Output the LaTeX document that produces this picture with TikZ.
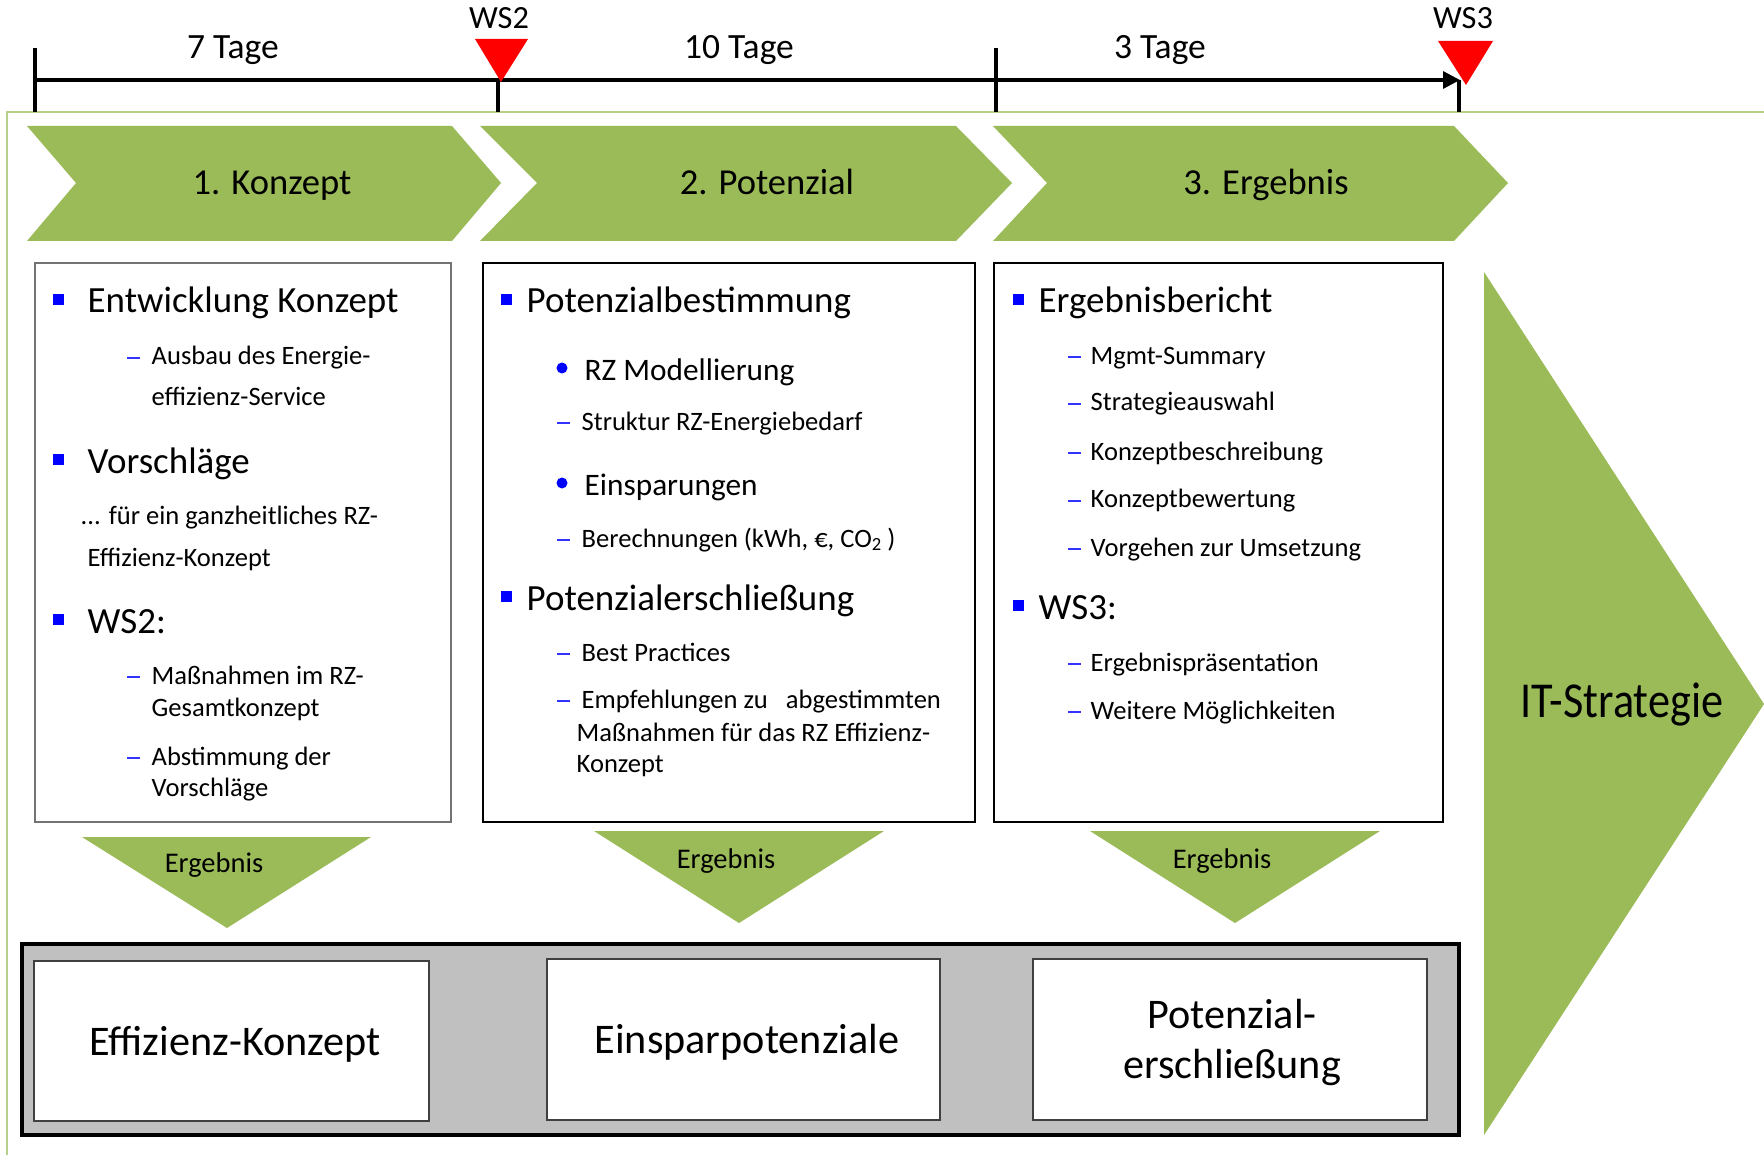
\documentclass[tikz,border=0pt]{standalone}
\usepackage{fontspec}
\setmainfont{Carlito}
\newfontfamily\cfont{Carlito}[FakeStretch=0.88]
\usetikzlibrary{arrows.meta}
\definecolor{olive}{HTML}{9BBB59}
\definecolor{frameg}{HTML}{B8CF8A}
\definecolor{bblue}{HTML}{0000FF}
\definecolor{dblue}{HTML}{3333FF}
\definecolor{grayfill}{HTML}{C0C0C0}
\newcommand\sqb[2]{\fill[bblue] (#1,#2-19) rectangle ++(11,11);}
\newcommand\rdb[2]{\fill[bblue] (#1,#2-12) circle[radius=5.5];}
\newcommand\dsh[2]{\draw[dblue,line width=0.45pt] (#1,#2-7) -- ++(13,0);}
\begin{document}
\begin{tikzpicture}[x=0.01cm,y=-0.01cm,
  hd/.style={anchor=base west, inner sep=0pt, font=\fontsize{10.5}{12}\selectfont},
  sb/.style={anchor=base west, inner sep=0pt, font=\fontsize{7.55}{9}\selectfont},
  md/.style={anchor=base west, inner sep=0pt, font=\fontsize{8.9}{10}\selectfont},
  tl/.style={anchor=base, inner sep=0pt, font=\fontsize{10.1}{12}\selectfont},
  ws/.style={anchor=base, inner sep=0pt, font=\fontsize{9.2}{10}\selectfont},
  chl/.style={anchor=base, inner sep=0pt, font=\fontsize{10.4}{12}\selectfont},
  erg/.style={anchor=base, inner sep=0pt, font=\fontsize{8.1}{9}\selectfont},
  big/.style={anchor=base, inner sep=0pt, font=\fontsize{12}{14}\selectfont},
  tick/.style={line width=1pt},
  cbox/.style={draw=black, line width=0.8pt},
  wbox/.style={fill=white, draw=black!75, line width=0.5pt}
]
\useasboundingbox (0,0) rectangle (1764,1155);
\fill[white] (0,0) rectangle (1764,1155);

% frame
\draw[frameg, line width=0.6pt] (7,1155) -- (7,112) -- (1764,112);

% timeline
\coordinate (t0) at (35,80);
\coordinate (t1) at (498,80);
\coordinate (t2) at (996,80);
\coordinate (t3) at (1460,80);
\draw[line width=0.9pt, -{Triangle[length=0.17cm,width=0.17cm]}] (t0) -- (t3);
\draw[tick] (35,48) -- (35,112);
\draw[tick] (t1) -- (498,112);
\draw[tick] (996,48) -- (996,112);
\draw[tick] (1459,80) -- (1459,112);
\fill[red] (475,39) -- (528,39) -- (501,82) -- cycle;
\fill[red] (1438,41) -- (1493,41) -- (1466,85) -- cycle;
\node[ws] (ws2) at (499,29) {WS2};
\node[ws] (ws3) at (1463,29) {WS3};
\node[tl] (d1) at (233,59) {7 Tage};
\node[tl] (d2) at (739,59) {10 Tage};
\node[tl] (d3) at (1160,59) {3 Tage};

% chevrons
\fill[olive] (27,126) -- (452,126) -- (501,183) -- (452,241) -- (27,241) -- (76,183) -- cycle;
\fill[olive] (480,126) -- (956,126) -- (1012,183) -- (956,241) -- (480,241) -- (537,183) -- cycle;
\fill[olive] (993,126) -- (1454,126) -- (1508,183) -- (1454,241) -- (993,241) -- (1047,183) -- cycle;
\node[chl] (c1) at (272,195) {1. Konzept};
\node[chl] (c2) at (767,195) {2. Potenzial};
\node[chl] (c3) at (1266,195) {3. Ergebnis};

% content boxes
\draw[draw=black!55, line width=0.5pt] (35,263) rectangle (451,822);
\draw[cbox] (483,263) rectangle (975,822);
\draw[cbox] (994,263) rectangle (1443,822);

% box 1
\sqb{53}{313} \node[hd] (a1) at (87,313) {Entwicklung Konzept};
\dsh{127}{365} \node[sb] (a2) at (151,365) {Ausbau des Energie-};
\node[sb] (a3) at (151,406) {effizienz-Service};
\sqb{53}{473} \node[hd] (a4) at (87,473) {Vorschläge};
\node[sb] (a5) at (80,524) {... für ein ganzheitliches RZ-};
\node[sb] (a6) at (87,566) {Effizienz-Konzept};
\sqb{53}{633} \node[hd] (a7) at (87,633) {WS2:};
\dsh{127}{684} \node[sb] (a8) at (151,684) {Maßnahmen im RZ-};
\node[sb] (a9) at (151,716) {Gesamtkonzept};
\dsh{127}{765} \node[sb] (a10) at (151,765) {Abstimmung der};
\node[sb] (a11) at (151,796) {Vorschläge};

% box 2
\sqb{501}{313} \node[hd] (b1) at (526,313) {Potenzialbestimmung};
\rdb{562}{380} \node[md] (b2) at (584,380) {RZ Modellierung};
\dsh{557}{430} \node[sb] (b3) at (581,430) {Struktur RZ-Energiebedarf};
\rdb{562}{495} \node[md] (b4) at (584,495) {Einsparungen};
\dsh{557}{547} \node[sb] (b5) at (581,547) {Berechnungen (kWh, €, CO\textsubscript{2}\,)};
\sqb{501}{610} \node[hd] (b6) at (526,610) {Potenzialerschließung};
\dsh{557}{661} \node[sb] (b7) at (581,661) {Best Practices};
\dsh{557}{708} \node[sb] (b8) at (581,708) {Empfehlungen zu\ \ \ abgestimmten};
\node[sb] (b9) at (576,741) {Maßnahmen für das RZ Effizienz-};
\node[sb] (b10) at (576,772) {Konzept};

% box 3
\sqb{1013}{313} \node[hd] (e1) at (1038,313) {Ergebnisbericht};
\dsh{1068}{364} \node[sb] (e2) at (1090,364) {Mgmt-Summary};
\dsh{1068}{411} \node[sb] (e3) at (1090,411) {Strategieauswahl};
\dsh{1068}{460} \node[sb] (e4) at (1090,460) {Konzeptbeschreibung};
\dsh{1068}{508} \node[sb] (e5) at (1090,508) {Konzeptbewertung};
\dsh{1068}{556} \node[sb] (e6) at (1090,556) {Vorgehen zur Umsetzung};
\sqb{1013}{619} \node[hd] (e7) at (1038,619) {WS3:};
\dsh{1068}{671} \node[sb] (e8) at (1090,671) {Ergebnispräsentation};
\dsh{1068}{719} \node[sb] (e9) at (1090,719) {Weitere Möglichkeiten};

% Ergebnis triangles
\fill[olive] (82,837) -- (371,837) -- (227,928) -- cycle;
\fill[olive] (594,831) -- (884,831) -- (739,923) -- cycle;
\fill[olive] (1090,831) -- (1380,831) -- (1235,923) -- cycle;
\node[erg] (r1) at (214,872) {Ergebnis};
\node[erg] (r2) at (726,868) {Ergebnis};
\node[erg] (r3) at (1222,868) {Ergebnis};

% results area
\draw[fill=grayfill, draw=black, line width=1pt] (22,944) rectangle (1459,1135);
\draw[wbox] (34,961) rectangle (429,1121);
\draw[wbox] (547,959) rectangle (940,1120);
\draw[wbox] (1033,959) rectangle (1427,1120);
\node[big] (o1) at (235,1055) {Effizienz-Konzept};
\node[big] (o2) at (747,1053) {Einsparpotenziale};
\node[big] (o3) at (1232,1028) {Potenzial-};
\node[big] (o3b) at (1232,1078) {erschließung};

% IT-Strategie
\fill[olive] (1484,272) -- (1764,704) -- (1484,1135) -- cycle;
\node[anchor=base, inner sep=0pt, font=\cfont\fontsize{14.3}{16}\selectfont] (it) at (1622,717) {IT-Strategie};
\end{tikzpicture}
\end{document}
